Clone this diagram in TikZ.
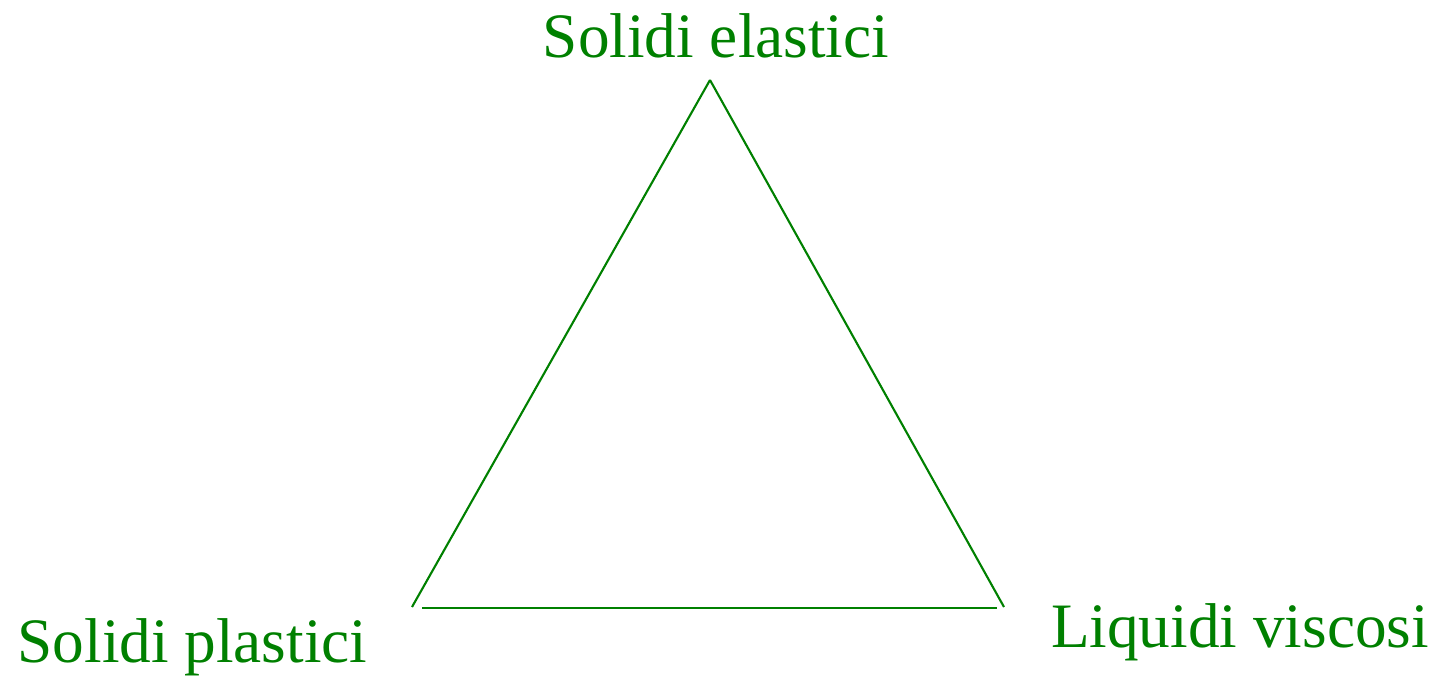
\documentclass[tikz,border=0pt]{standalone}
\usepackage{fontspec}
\setmainfont{Liberation Serif}
\usepackage{xcolor}
\usetikzlibrary{positioning}
\definecolor{vertino}{RGB}{0,128,0}
\tikzset{
  lato/.style={draw=vertino, line width=0.6pt},
  etic/.style={text=vertino, anchor=base, inner sep=0pt, font=\fontsize{18}{20}\selectfont},
}
\begin{document}
\begin{tikzpicture}
\useasboundingbox (0,0) rectangle (14.37,6.77);
\coordinate (apice) at (7.10,5.97);
\coordinate (sx) at (4.12,0.70);
\coordinate (dx) at (10.04,0.70);
\node[etic] (el) at (7.16,6.20) {Solidi elastici};
\node[etic] (pl) at (1.925,0.15) {Solidi plastici};
\node[etic] (vi) at (12.40,0.30) {Liquidi viscosi};
\draw[lato] (apice) -- (sx);
\draw[lato] (apice) -- (dx);
\draw[lato] ([xshift=1mm,yshift=-0.1mm]sx) -- ([xshift=-0.7mm,yshift=-0.1mm]dx);
\end{tikzpicture}
\end{document}
